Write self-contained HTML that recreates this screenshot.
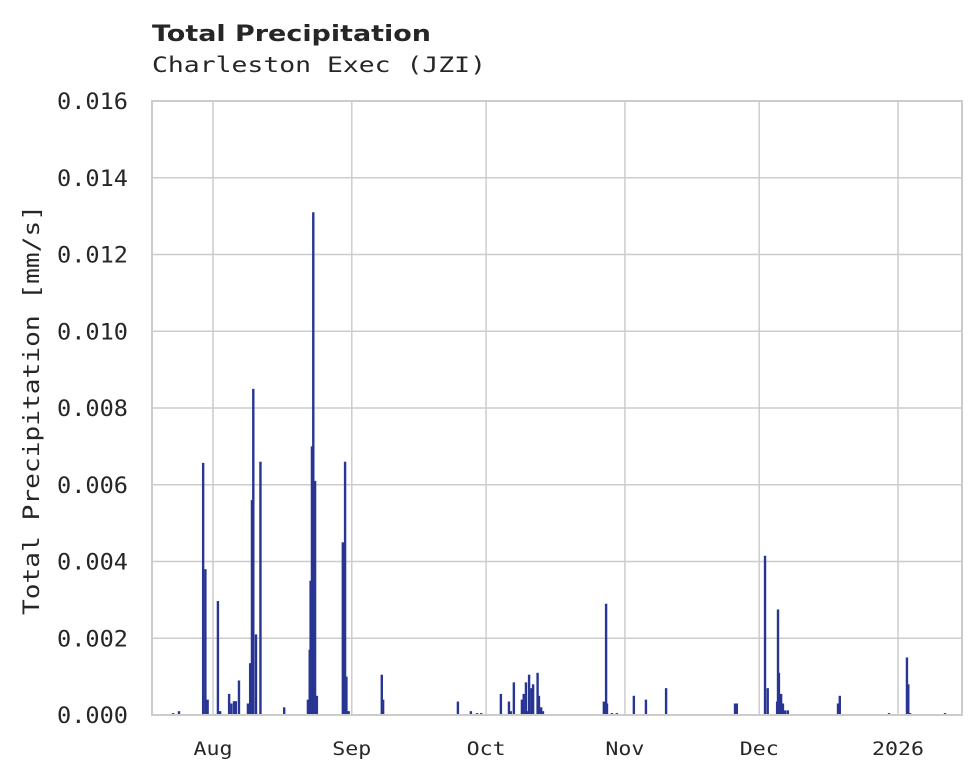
<!DOCTYPE html>
<html><head><meta charset="utf-8"><style>
html,body{margin:0;padding:0;background:#fff;}
svg{display:block}
.mono{font-family:"DejaVu Sans Mono","Liberation Mono",monospace;fill:#262626}
</style></head><body>
<svg id="chart" width="980" height="780">
<text x="152" y="41" font-family="DejaVu Sans, Liberation Sans, sans-serif" font-weight="bold" font-size="22" textLength="279" lengthAdjust="spacingAndGlyphs" fill="#262626">Total Precipitation</text>
<text x="152" y="72" class="mono" font-size="21" textLength="334" lengthAdjust="spacingAndGlyphs">Charleston Exec (JZI)</text>
<g id="grid"></g>
<g id="bars"></g>
<rect x="152" y="101" width="810" height="614" fill="none" stroke="#cccccc" stroke-width="2"/>
<g id="yt"></g>
<g id="xt"></g>
<text transform="translate(39,410) rotate(-90)" text-anchor="middle" class="mono" font-size="22" textLength="410" lengthAdjust="spacingAndGlyphs">Total Precipitation [mm/s]</text>
</svg>
<script>
// days relative to Aug 1
const xTickLabels=["Aug","Sep","Oct","Nov","Dec","2026"];
const xTickDays=[0,31,61,92,122,153];
const yTicks=[0,0.002,0.004,0.006,0.008,0.010,0.012,0.014,0.016];
const barDays=[-8.9,-7.6,-2.2,-1.7,-1.2,1.1,1.6,3.6,4.1,4.7,5.1,5.8,7.8,8.3,8.7,9.0,9.6,10.6,15.9,21.2,21.6,21.8,22.1,22.4,22.8,23.2,29.0,29.5,29.8,30.3,37.7,38.0,54.7,57.6,59.0,59.9,64.3,66.1,66.5,67.2,69.0,69.4,69.9,70.4,70.6,71.1,71.5,72.5,72.8,73.3,73.7,87.3,87.8,88.0,89.1,90.2,94.0,96.7,101.2,116.6,117.0,123.3,123.9,126.0,126.2,126.4,126.9,127.3,127.8,128.4,139.6,140.0,151.0,155.0,155.3,155.7,163.5];
const barVals=[0.00005,0.0001,0.00657,0.0038,0.0004,0.00297,0.0001,0.00055,0.0003,0.00036,0.00036,0.0009,0.0003,0.00135,0.0056,0.0085,0.0021,0.0066,0.0002,0.0004,0.0017,0.0035,0.007,0.0131,0.0061,0.0005,0.0045,0.0066,0.001,0.0001,0.00105,0.0004,0.00035,0.0001,0.00005,0.00005,0.00055,0.00035,0.0001,0.00085,0.0004,0.00055,0.00085,0.0001,0.00105,0.0007,0.0008,0.0011,0.0005,0.0002,0.0001,0.00035,0.0029,0.0003,0.00005,0.00005,0.0005,0.0004,0.0007,0.0003,0.0003,0.00415,0.0007,0.00035,0.00275,0.0011,0.00055,0.0003,0.00012,0.00012,0.0003,0.0005,0.00005,0.0015,0.0008,0.00005,0.00005];
const NS="http://www.w3.org/2000/svg";
const X0=152,X1=962,Y0=715,Y1=101;
function xs(d){return 213+d*(898-213)/153;}
function ys(v){return Y0-(v/0.016)*(Y0-Y1);}
const grid=document.getElementById('grid'),bars=document.getElementById('bars'),yt=document.getElementById('yt'),xt=document.getElementById('xt');
function mk(tag,attrs,parent){const e=document.createElementNS(NS,tag);for(const k in attrs)e.setAttribute(k,attrs[k]);parent.appendChild(e);return e;}
yTicks.forEach(v=>{
  const y=ys(v);
  const l=mk('line',{x1:X0,x2:X1,y1:y,y2:y,stroke:'#cccccc','stroke-width':1.5},grid);
  
  
  const t=mk('text',{x:57,y:y+8,'font-size':22,textLength:71,lengthAdjust:'spacingAndGlyphs',class:'mono'},yt);
  t.textContent=v.toFixed(3);
  
  
});
xTickDays.forEach((d,i)=>{
  const x=xs(d);
  const l=mk('line',{x1:x,x2:x,y1:Y1,y2:Y0,stroke:'#cccccc','stroke-width':1.5},grid);
  
  
  const lab=xTickLabels[i];
  const t=mk('text',{x:x-lab.length*6.5,y:755,'font-size':19,textLength:lab.length*13,lengthAdjust:'spacingAndGlyphs',class:'mono'},xt);
  t.textContent=lab;
  
  
});
barDays.forEach((d,i)=>{
  const x=xs(d),y=ys(barVals[i]);
  const r=mk('rect',{x:x-1.2,y:y,width:2.4,height:Math.max(Y0-y,0.8),fill:'#283593'},bars);
  
  
});
</script>
</body></html>
